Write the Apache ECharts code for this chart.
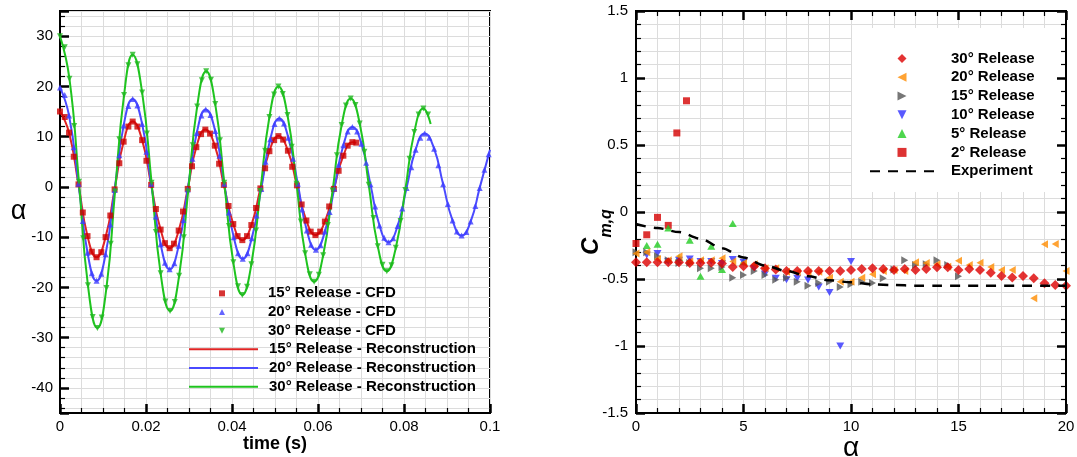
<!DOCTYPE html>
<html><head><meta charset="utf-8">
<script src="https://cdn.jsdelivr.net/npm/echarts@6/dist/echarts.min.js"></script>
<style>html,body{margin:0;padding:0;background:#fff}#c{width:1077px;height:457px}</style>
</head><body><div id="c"></div>
<script>
// ---------- Left chart: alpha(t) ----------
const cfd15 = [[0,15.0],[0.0011,13.9],[0.0021,10.8],[0.0032,6.0],[0.0043,0.5],[0.0053,-5.1],[0.0064,-9.8],[0.0074,-12.9],[0.0085,-14.0],
[0.0096,-13.0],[0.0106,-10.0],[0.0117,-5.7],[0.0127,-0.5],[0.0138,4.7],[0.0148,9.0],[0.0159,12.0],[0.0169,13.0],
[0.0180,12.0],[0.0191,9.3],[0.0201,5.2],[0.0212,0.4],[0.0223,-4.4],[0.0234,-8.5],[0.0244,-11.2],[0.0255,-12.2],
[0.0265,-11.3],[0.0276,-8.7],[0.0286,-4.9],[0.0297,-0.4],[0.0307,4.1],[0.0317,7.9],[0.0328,10.5],[0.0338,11.4],
[0.0349,10.6],[0.0360,8.2],[0.0370,4.6],[0.0381,0.4],[0.0392,-3.8],[0.0403,-7.4],[0.0413,-9.8],[0.0424,-10.6],
[0.0435,-9.8],[0.0445,-7.6],[0.0456,-4.2],[0.0466,-0.3],[0.0477,3.7],[0.0487,7.1],[0.0498,9.3],[0.0508,10.1],
[0.0519,9.4],[0.0530,7.2],[0.0540,4.0],[0.0551,0.3],[0.0562,-3.5],[0.0573,-6.7],[0.0583,-8.9],[0.0594,-9.6],
[0.0605,-8.9],[0.0616,-6.9],[0.0626,-3.9],[0.0637,-0.4],[0.0648,3.2],[0.0659,6.2],[0.0669,8.2],[0.0680,8.9],[0.0689,8.8]];
const cfd20 = [[0,19.8],[0.0011,18.3],[0.0021,14.2],[0.0032,7.9],[0.0043,0.6],[0.0053,-6.8],[0.0064,-13.1],[0.0074,-17.2],[0.0085,-18.7],
[0.0096,-17.3],[0.0106,-13.4],[0.0117,-7.5],[0.0127,-0.6],[0.0138,6.3],[0.0148,12.2],[0.0159,16.1],[0.0169,17.5],
[0.0180,16.2],[0.0191,12.5],[0.0201,7.0],[0.0212,0.6],[0.0223,-5.9],[0.0234,-11.4],[0.0244,-15.1],[0.0255,-16.4],
[0.0266,-15.2],[0.0276,-11.7],[0.0287,-6.6],[0.0297,-0.5],[0.0308,5.6],[0.0318,10.7],[0.0329,14.2],[0.0339,15.4],
[0.0350,14.3],[0.0361,11.1],[0.0371,6.2],[0.0382,0.6],[0.0393,-5.1],[0.0404,-10.0],[0.0414,-13.2],[0.0425,-14.3],
[0.0436,-13.2],[0.0446,-10.2],[0.0457,-5.7],[0.0468,-0.4],[0.0478,5.0],[0.0489,9.5],[0.0499,12.5],[0.0510,13.6],
[0.0521,12.6],[0.0531,9.8],[0.0542,5.6],[0.0553,0.6],[0.0563,-4.5],[0.0574,-8.7],[0.0584,-11.5],[0.0595,-12.5],
[0.0606,-11.6],[0.0616,-8.9],[0.0627,-5.0],[0.0638,-0.3],[0.0648,4.4],[0.0659,8.3],[0.0669,11.0],[0.0680,11.9],
[0.0691,11.0],[0.0701,8.6],[0.0712,4.8],[0.0722,0.5],[0.0733,-3.9],[0.0743,-7.7],[0.0754,-10.1],[0.0764,-11.0],
[0.0775,-10.2],[0.0785,-7.8],[0.0796,-4.3],[0.0806,-0.2],[0.0817,3.9],[0.0827,7.4],[0.0838,9.8],[0.0848,10.6],
[0.0859,9.8],[0.0870,7.6],[0.0880,4.3],[0.0891,0.5],[0.0902,-3.4],[0.0913,-6.7],[0.0923,-8.9],[0.0934,-9.7],
[0.0945,-9.0],[0.0955,-6.9],[0.0966,-3.8],[0.0976,-0.2],[0.0987,3.4],[0.0997,6.5]];
const cfd30 = [[0,30.0],[0.0011,27.8],[0.0022,21.5],[0.0033,12.1],[0.0044,1.0],[0.0054,-10.2],[0.0065,-19.6],[0.0076,-25.9],[0.0087,-28.1],
[0.0097,-26.0],[0.0108,-20.1],[0.0118,-11.3],[0.0128,-0.9],[0.0138,9.5],[0.0149,18.3],[0.0159,24.2],[0.0169,26.3],
[0.0180,24.4],[0.0191,18.8],[0.0202,10.6],[0.0213,0.8],[0.0223,-9.0],[0.0234,-17.2],[0.0245,-22.8],[0.0256,-24.7],
[0.0267,-22.9],[0.0277,-17.7],[0.0288,-10.0],[0.0298,-0.9],[0.0309,8.3],[0.0319,16.0],[0.0330,21.2],[0.0340,23.0],
[0.0351,21.3],[0.0361,16.5],[0.0372,9.3],[0.0382,0.8],[0.0393,-7.8],[0.0403,-15.0],[0.0414,-19.8],[0.0424,-21.5],
[0.0435,-19.9],[0.0445,-15.4],[0.0456,-8.7],[0.0466,-0.8],[0.0477,7.2],[0.0487,13.9],[0.0498,18.4],[0.0508,20.0],
[0.0518,18.5],[0.0529,14.3],[0.0539,8.0],[0.0550,0.6],[0.0560,-6.9],[0.0570,-13.2],[0.0581,-17.4],[0.0591,-18.9],
[0.0602,-17.5],[0.0612,-13.6],[0.0623,-7.6],[0.0634,-0.7],[0.0644,6.3],[0.0655,12.3],[0.0665,16.2],[0.0676,17.6],
[0.0687,16.3],[0.0697,12.6],[0.0708,7.0],[0.0718,0.4],[0.0729,-6.2],[0.0739,-11.8],[0.0750,-15.5],[0.0760,-16.8],
[0.0771,-15.6],[0.0781,-12.1],[0.0792,-6.8],[0.0803,-0.6],[0.0813,5.6],[0.0824,10.9],[0.0834,14.4],[0.0845,15.6],[0.0856,14.4]];

const rec15 = [[0,15.0],[0.0021,10.8],[0.0043,0.5],[0.0064,-9.8],[0.0085,-14.0],[0.0106,-10.0],[0.0127,-0.5],[0.0148,9.0],[0.0169,13.0],
[0.0191,9.3],[0.0212,0.4],[0.0234,-8.5],[0.0255,-12.2],[0.0276,-8.7],[0.0297,-0.4],[0.0317,7.9],[0.0338,11.4],
[0.0360,8.2],[0.0381,0.4],[0.0403,-7.4],[0.0424,-10.6],[0.0445,-7.6],[0.0466,-0.3],[0.0487,7.1],[0.0508,10.1],
[0.0530,7.2],[0.0551,0.3],[0.0573,-6.7],[0.0594,-9.6],[0.0616,-6.9],[0.0637,-0.4],[0.0659,6.2],[0.0680,8.9],[0.0689,8.8]];
const rec20 = [[0,19.8],[0.0021,14.2],[0.0043,0.6],[0.0064,-13.1],[0.0085,-18.7],[0.0106,-13.4],[0.0127,-0.6],[0.0148,12.2],[0.0169,17.5],
[0.0191,12.5],[0.0212,0.6],[0.0234,-11.4],[0.0255,-16.4],[0.0276,-11.7],[0.0297,-0.5],[0.0318,10.7],[0.0339,15.4],
[0.0361,11.1],[0.0382,0.6],[0.0404,-10.0],[0.0425,-14.3],[0.0446,-10.2],[0.0468,-0.4],[0.0489,9.5],[0.0510,13.6],
[0.0531,9.8],[0.0553,0.6],[0.0574,-8.7],[0.0595,-12.5],[0.0616,-8.9],[0.0638,-0.3],[0.0659,8.3],[0.0680,11.9],
[0.0701,8.6],[0.0722,0.5],[0.0743,-7.7],[0.0764,-11.0],[0.0785,-7.8],[0.0806,-0.2],[0.0827,7.4],[0.0848,10.6],
[0.0870,7.6],[0.0891,0.5],[0.0913,-6.7],[0.0934,-9.7],[0.0955,-6.9],[0.0976,-0.2],[0.1000,7.4]];
const rec30 = [[0,30.0],[0.0022,21.5],[0.0044,1.0],[0.0065,-19.6],[0.0087,-28.1],[0.0108,-20.1],[0.0128,-0.9],[0.0149,18.3],[0.0169,26.3],
[0.0191,18.8],[0.0213,0.8],[0.0234,-17.2],[0.0256,-24.7],[0.0277,-17.7],[0.0298,-0.9],[0.0319,16.0],[0.0340,23.0],
[0.0361,16.5],[0.0382,0.8],[0.0403,-15.0],[0.0424,-21.5],[0.0445,-15.4],[0.0466,-0.8],[0.0487,13.9],[0.0508,20.0],
[0.0529,14.3],[0.0550,0.6],[0.0570,-13.2],[0.0591,-18.9],[0.0612,-13.6],[0.0634,-0.7],[0.0655,12.3],[0.0676,17.6],
[0.0697,12.6],[0.0718,0.4],[0.0739,-11.8],[0.0760,-16.8],[0.0781,-12.1],[0.0803,-0.6],[0.0824,10.9],[0.0845,15.6],[0.0862,12.5]];

// ---------- Right chart: Cm,q(alpha) ----------
const rel30 = [[0,-0.375],[0.5,-0.375],[1,-0.375],[1.5,-0.375],[2,-0.375],[2.5,-0.38],[3,-0.38],[3.5,-0.378],[4,-0.385],[4.5,-0.41],[5,-0.405],[5.5,-0.405],[6,-0.42],[6.5,-0.43],[7,-0.44],[7.5,-0.44],[8,-0.44],[8.5,-0.44],[9,-0.44],[9.5,-0.44],[10,-0.433],[10.5,-0.425],[11,-0.42],[11.5,-0.425],[12,-0.433],[12.5,-0.425],[13,-0.433],[13.5,-0.425],[14,-0.413],[14.5,-0.413],[15,-0.433],[15.5,-0.425],[16,-0.433],[16.5,-0.453],[17,-0.478],[17.5,-0.488],[18,-0.478],[18.5,-0.495],[19,-0.532],[19.5,-0.545],[20,-0.55]];
const rel20 = [[0,-0.31],[0.5,-0.30],[1,-0.35],[1.5,-0.36],[2,-0.33],[2.5,-0.37],[3,-0.36],[3.5,-0.36],[4,-0.345],[4.5,-0.37],[5,-0.38],[5.5,-0.39],[6,-0.42],[6.5,-0.42],[7,-0.445],[7.5,-0.45],[8,-0.45],[8.5,-0.445],[9,-0.49],[9.5,-0.52],[10,-0.52],[10.5,-0.49],[11,-0.465],[11.5,-0.44],[12,-0.433],[12.5,-0.44],[13,-0.375],[13.5,-0.38],[14,-0.39],[14.5,-0.408],[15,-0.363],[15.5,-0.395],[16,-0.378],[16.5,-0.41],[17,-0.433],[17.5,-0.433],[18.5,-0.644],[19,-0.241],[19.5,-0.239],[20,-0.44]];
const rel15 = [[0,-0.30],[0.5,-0.30],[1,-0.33],[1.5,-0.36],[2,-0.38],[2.5,-0.38],[3,-0.42],[3.5,-0.42],[4,-0.41],[4.5,-0.49],[5,-0.47],[5.5,-0.44],[6,-0.47],[6.5,-0.505],[7,-0.49],[7.5,-0.52],[8,-0.55],[8.5,-0.53],[9,-0.52],[9.5,-0.56],[10,-0.54],[10.5,-0.52],[11,-0.53],[11.5,-0.495],[12,-0.43],[12.5,-0.36],[13,-0.395],[13.5,-0.39],[14,-0.36],[14.5,-0.395],[15,-0.48]];
const rel10 = [[0.5,-0.32],[1,-0.31],[1.5,-0.37],[2,-0.36],[2.5,-0.35],[3,-0.37],[3.5,-0.37],[4,-0.385],[4.5,-0.355],[5,-0.375],[5.5,-0.42],[6,-0.463],[6.5,-0.495],[7,-0.505],[7.5,-0.495],[8,-0.507],[8.5,-0.56],[9,-0.60],[9.5,-1.0],[10,-0.37]];
const rel5 = [[0.5,-0.25],[1,-0.24],[1.5,-0.12],[2,-0.34],[2.5,-0.21],[3,-0.48],[3.5,-0.255],[4,-0.43],[4.5,-0.085],[5,-0.37]];
const rel2 = [[0,-0.235],[0.5,-0.17],[1,-0.04],[1.5,-0.10],[1.9,0.59],[2.35,0.83]];
const experiment = [[0,-0.09],[1,-0.12],[2,-0.15],[3,-0.20],[4,-0.27],[5,-0.34],[6,-0.40],[7,-0.44],[8,-0.48],[9,-0.51],[10,-0.525],[11,-0.54],[12,-0.545],[13,-0.55],[14,-0.55],[16,-0.55],[18,-0.55],[20,-0.55]];

const leftCfdNames = ['15\u00b0 Release - CFD','20\u00b0 Release - CFD','30\u00b0 Release - CFD'];
const leftRecNames = ['15\u00b0 Release - Reconstruction','20\u00b0 Release - Reconstruction','30\u00b0 Release - Reconstruction'];
const rightNames = ['30\u00b0 Release','20\u00b0 Release','15\u00b0 Release','10\u00b0 Release','5\u00b0 Release','2\u00b0 Release','Experiment'];

const FONT = '"Liberation Sans", Arial, Helvetica, sans-serif';
const GRIDC = '#dcdcdc';
const SQ = 'path://M0,0 L10,0 L10,10 L0,10 Z';
const UP = 'path://M5,0 L10,10 L0,10 Z';
const DOWN = 'path://M0,0 L10,0 L5,10 Z';
const LEFT = 'path://M10,0 L10,10 L0,5 Z';
const RIGHT = 'path://M0,0 L10,5 L0,10 Z';
const DIA = 'path://M5,0 L10,5 L5,10 L0,5 Z';

function axis(o, minorSplit, grid) {
  return Object.assign({
    type: 'value',
    axisLine: { show: true, onZero: false, lineStyle: { color: '#000', width: 2 } },
    axisTick: { show: true, inside: true, length: 9, lineStyle: { color: '#000', width: 2.5 } },
    minorTick: { show: true, splitNumber: minorSplit, length: 5, lineStyle: { color: '#000', width: 1.2 } },
    splitLine: { show: grid, lineStyle: { color: GRIDC, width: 1 } },
    minorSplitLine: { show: grid, lineStyle: { color: GRIDC, width: 1 } },
    axisLabel: { color: '#000', fontSize: 15, fontFamily: FONT, margin: 6 }
  }, o);
}
const noSym = { color: 'rgba(0,0,0,0)', borderWidth: 0 };

const chart = echarts.init(document.getElementById('c'), null, { renderer: 'canvas' });
const legendText = { color: '#000', fontSize: 15, fontWeight: 'bold', fontFamily: FONT };

chart.setOption({
  animation: false,
  backgroundColor: '#fff',
  grid: [
    { left: 60, top: 11, width: 430, height: 402, show: true, borderColor: '#000', borderWidth: 2, outerBoundsMode: 'none', containLabel: false },
    { left: 636, top: 11, width: 430, height: 402, show: true, borderColor: '#000', borderWidth: 2, outerBoundsMode: 'none', containLabel: false }
  ],
  xAxis: [
    axis({ gridIndex: 0, min: 0, max: 0.1, interval: 0.02,
      name: 'time (s)', nameLocation: 'middle', nameGap: 22, nameMoveOverlap: false,
      nameTextStyle: { fontSize: 18, fontWeight: 'bold', color: '#000', fontFamily: FONT } }, 4, true),
    axis({ gridIndex: 1, min: 0, max: 20, interval: 5,
      name: '\u03b1', nameLocation: 'middle', nameGap: 23, nameMoveOverlap: false,
      nameTextStyle: { fontSize: 28, color: '#000', fontFamily: FONT, lineHeight: 24 } }, 5, true),
    axis({ gridIndex: 1, min: 0, max: 20, interval: 5, position: 'top', z: 5,
      axisLabel: { show: false } }, 5, false)
  ],
  yAxis: [
    axis({ gridIndex: 0, min: -45, max: 35, splitNumber: 8,
      axisLabel: { color: '#000', fontSize: 15, fontFamily: FONT, margin: 7, showMinLabel: false, showMaxLabel: false },
      name: '\u03b1', nameLocation: 'middle', nameGap: 26, nameRotate: 0,
      nameTextStyle: { fontSize: 27, color: '#000', fontFamily: FONT } }, 5, true),
    axis({ gridIndex: 1, min: -1.5, max: 1.5, interval: 0.5,
      axisLabel: { color: '#000', fontSize: 15, fontFamily: FONT, margin: 8 },
      name: '{c|C}{s|m,q}', nameLocation: 'middle', nameGap: 21, nameRotate: 90, nameMoveOverlap: false,
      nameTextStyle: { color: '#000', rich: {
        c: { fontSize: 24, fontWeight: 'bold', fontStyle: 'italic', fontFamily: FONT, lineHeight: 26, verticalAlign: 'top' },
        s: { fontSize: 16, fontWeight: 'bold', fontStyle: 'italic', fontFamily: FONT, lineHeight: 36, verticalAlign: 'bottom', padding: [0, 40, 0, 0] } } } }, 5, true),
    axis({ gridIndex: 1, min: -1.5, max: 1.5, interval: 0.5, position: 'right', z: 5,
      axisLabel: { show: false } }, 5, false)
  ],
  legend: [
    { data: leftCfdNames, orient: 'vertical', left: 219, top: 284, padding: 0, itemGap: 0,
      itemWidth: 6, itemHeight: 6, selectedMode: false,
      textStyle: Object.assign({ lineHeight: 18.7, padding: [0, 0, 0, 38] }, legendText) },
    { data: leftRecNames.map(n => ({ name: n, itemStyle: noSym })), orient: 'vertical', left: 188, top: 340, padding: 0, itemGap: 0,
      itemWidth: 69, itemHeight: 14, selectedMode: false,
      textStyle: Object.assign({ lineHeight: 18.7, padding: [0, 0, 0, 6] }, legendText) },
    { data: rightNames.map(n => n === 'Experiment' ? { name: n, itemStyle: noSym } : n), orient: 'vertical', left: 869, top: 49, padding: 0, itemGap: 0,
      itemWidth: 64, itemHeight: 9, selectedMode: false, z: 6,
      textStyle: Object.assign({ lineHeight: 18.8, padding: [0, 0, 0, 12] }, legendText) }
  ],
  graphic: { elements: [
    { type: 'rect', z: 3, silent: true, shape: { x: 852, y: 28, width: 212, height: 164 }, style: { fill: '#fff' } }
  ] },
  series: [
    { name: leftRecNames[0], type: 'line', xAxisIndex: 0, yAxisIndex: 0, data: rec15, smooth: 0.5, symbol: 'none', z: 2,
      lineStyle: { color: '#e02424', width: 2 }, itemStyle: { color: '#e02424' } },
    { name: leftRecNames[1], type: 'line', xAxisIndex: 0, yAxisIndex: 0, data: rec20, smooth: 0.5, symbol: 'none', z: 2,
      lineStyle: { color: '#4a4aff', width: 2 }, itemStyle: { color: '#4a4aff' } },
    { name: leftRecNames[2], type: 'line', xAxisIndex: 0, yAxisIndex: 0, data: rec30, smooth: 0.5, symbol: 'none', z: 2,
      lineStyle: { color: '#1fc41f', width: 2 }, itemStyle: { color: '#1fc41f' } },
    { name: leftCfdNames[0], type: 'scatter', xAxisIndex: 0, yAxisIndex: 0, data: cfd15, symbol: SQ, symbolSize: 6, z: 3,
      itemStyle: { color: '#cc0000' } },
    { name: leftCfdNames[1], type: 'scatter', xAxisIndex: 0, yAxisIndex: 0, data: cfd20, symbol: UP, symbolSize: 6, z: 3,
      itemStyle: { color: '#3f3fff' } },
    { name: leftCfdNames[2], type: 'scatter', xAxisIndex: 0, yAxisIndex: 0, data: cfd30, symbol: DOWN, symbolSize: 6, z: 3,
      itemStyle: { color: '#1fb81f' } },

    { name: rightNames[5], type: 'scatter', xAxisIndex: 1, yAxisIndex: 1, data: rel2, symbol: SQ, symbolSize: 7,
      itemStyle: { color: '#d40000' } },
    { name: rightNames[4], type: 'scatter', xAxisIndex: 1, yAxisIndex: 1, data: rel5, symbol: UP, symbolSize: [8, 7],
      itemStyle: { color: '#22cc22' } },
    { name: rightNames[3], type: 'scatter', xAxisIndex: 1, yAxisIndex: 1, data: rel10, symbol: DOWN, symbolSize: [8, 7],
      itemStyle: { color: '#3030ff' } },
    { name: rightNames[2], type: 'scatter', xAxisIndex: 1, yAxisIndex: 1, data: rel15, symbol: RIGHT, symbolSize: [7, 8],
      itemStyle: { color: '#555555' } },
    { name: rightNames[1], type: 'scatter', xAxisIndex: 1, yAxisIndex: 1, data: rel20, symbol: LEFT, symbolSize: [7, 8],
      itemStyle: { color: '#ff8c00' } },
    { name: rightNames[0], type: 'scatter', xAxisIndex: 1, yAxisIndex: 1, data: rel30, symbol: DIA, symbolSize: 10,
      itemStyle: { color: '#dd0000' } },
    { name: rightNames[6], type: 'line', xAxisIndex: 1, yAxisIndex: 1, data: experiment, smooth: 0.3, smoothMonotone: 'x', symbol: 'none',
      lineStyle: { color: '#000', width: 2.5, type: [10, 8] }, itemStyle: { color: '#000' } }
  ]
});
</script></body></html>
